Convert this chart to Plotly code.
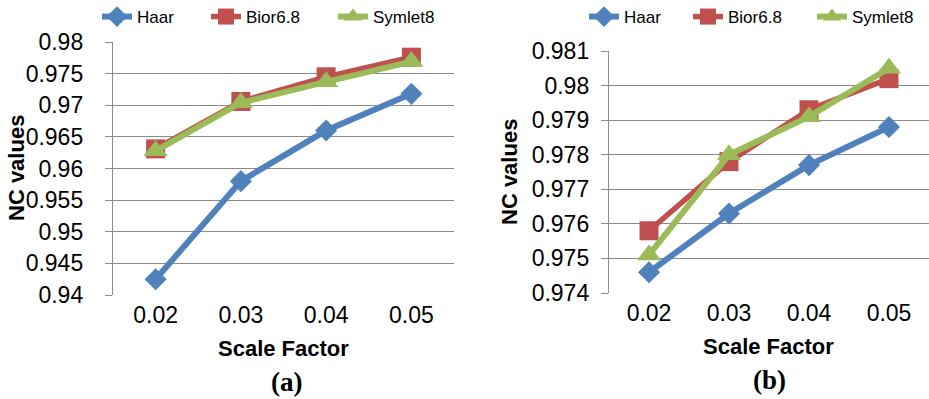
import plotly.graph_objects as go

W, H = 929, 399

categories = ["0.02", "0.03", "0.04", "0.05"]
series_names = ["Haar", "Bior6.8", "Symlet8"]

# Chart (a)
haar_a = [0.9425, 0.958, 0.966, 0.9718]
bior_a = [0.9631, 0.9706, 0.9745, 0.9776]
sym_a = [0.9628, 0.9704, 0.9737, 0.9769]

# Chart (b)
haar_b = [0.9746, 0.9763, 0.9777, 0.9788]
bior_b = [0.9758, 0.9778, 0.9793, 0.9802]
sym_b = [0.9751, 0.9780, 0.9791, 0.9805]

yticks_a = [0.94, 0.945, 0.95, 0.955, 0.96, 0.965, 0.97, 0.975, 0.98]
ytick_text_a = ["0.94", "0.945", "0.95", "0.955", "0.96", "0.965", "0.97", "0.975", "0.98"]
yticks_b = [0.974, 0.975, 0.976, 0.977, 0.978, 0.979, 0.98, 0.981]
ytick_text_b = ["0.974", "0.975", "0.976", "0.977", "0.978", "0.979", "0.98", "0.981"]

colors = ["#4F81BD", "#C0504D", "#9BBB59"]
symbols = ["diamond", "square", "triangle-up"]
msizes = [17, 19, 21]
lwidths = [6, 5.5, 6]

FONT = "Liberation Sans, Arial, sans-serif"
GRID = "#8A8A8A"

def px(x):
    return x / W

def py(y):
    return 1 - y / H

# legend text start positions (pixels) for each entry
legend_text_a = [137, 246, 373]
legend_text_b = [624, 728, 852]

fig = go.Figure()

lid = 1
legend_layouts = {}
for chart, data, lx, xa, ya_ in [("a", [haar_a, bior_a, sym_a], legend_text_a, "x", "y"),
                                  ("b", [haar_b, bior_b, sym_b], legend_text_b, "x2", "y2")]:
    for i, (name, vals) in enumerate(zip(series_names, data)):
        key = "legend" if lid == 1 else f"legend{lid}"
        fig.add_trace(go.Scatter(
            x=categories, y=vals, name=name, mode="lines+markers",
            line=dict(color=colors[i], width=lwidths[i]),
            marker=dict(symbol=symbols[i], size=msizes[i], color=colors[i]),
            xaxis=xa, yaxis=ya_, legend=key,
        ))
        legend_layouts[key] = dict(
            x=px(lx[i] - 40), y=py(17), xanchor="left", yanchor="middle",
            orientation="h", font=dict(family=FONT, size=17, color="#000"),
            bgcolor="rgba(0,0,0,0)", itemsizing="trace",
        )
        lid += 1

common_x = dict(type="category", range=[-0.5, 3.5], showgrid=False, zeroline=False,
                showline=False, ticks="", tickfont=dict(family=FONT, size=23, color="#000"),
                fixedrange=True)
common_y = dict(showgrid=True, gridcolor=GRID, gridwidth=1.4, zeroline=False,
                showline=True, linecolor=GRID, linewidth=1.4,
                ticks="outside", ticklen=7, tickcolor=GRID, tickwidth=1.4,
                tickfont=dict(family=FONT, size=23, color="#000"), fixedrange=True)

fig.update_layout(
    width=W, height=H,
    margin=dict(l=0, r=0, t=0, b=0, autoexpand=False),
    paper_bgcolor="white", plot_bgcolor="white",
    showlegend=True,
    xaxis=dict(common_x, domain=[px(113), px(454)], anchor="y", ticklabelstandoff=4),
    yaxis=dict(common_y, domain=[py(295), py(42)], anchor="x",
               range=[0.94, 0.98], tickvals=yticks_a, ticktext=ytick_text_a,
               ticklabelstandoff=17),
    xaxis2=dict(common_x, domain=[px(609), px(929)], anchor="y2", ticklabelstandoff=4),
    yaxis2=dict(common_y, domain=[py(293), py(51)], anchor="x2",
                range=[0.974, 0.981], tickvals=yticks_b, ticktext=ytick_text_b,
                ticklabelstandoff=7),
    **legend_layouts,
)

annots = [
    dict(text="<b>NC values</b>", x=px(16), y=py(168), textangle=-90),
    dict(text="<b>NC values</b>", x=px(509), y=py(172), textangle=-90),
    dict(text="<b>Scale Factor</b>", x=px(283), y=py(348)),
    dict(text="<b>Scale Factor</b>", x=px(768), y=py(346)),
]
for a in annots:
    fig.add_annotation(xref="paper", yref="paper", showarrow=False,
                       xanchor="center", yanchor="middle",
                       font=dict(family=FONT, size=22, color="#000"), **a)

for t, x, y in [("(a)", 286, 382), ("(b)", 769, 380)]:
    fig.add_annotation(xref="paper", yref="paper", showarrow=False,
                       xanchor="center", yanchor="middle", text=f"<b>{t}</b>",
                       x=px(x), y=py(y),
                       font=dict(family="Liberation Serif, Times New Roman, serif", size=27, color="#000"))

fig.write_html("out.html",
               config={"displayModeBar": False},
               post_script="document.body.style.margin='0';document.body.style.overflow='hidden';")
